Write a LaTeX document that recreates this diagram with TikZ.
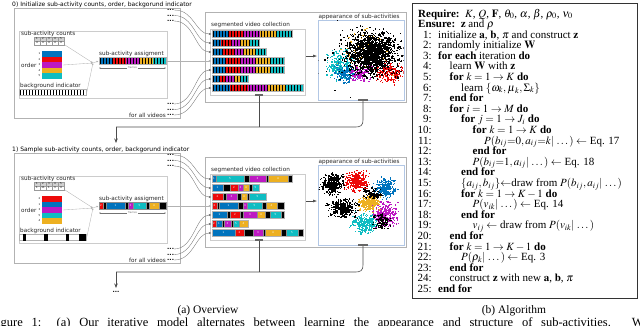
\documentclass[tikz,border=0pt]{standalone}
\usepackage{amsmath}
\usepackage{mathptmx}
\usepackage{fontspec}
\setmainfont{Liberation Serif}
\newfontfamily\lblfont{DejaVu Sans}
\usetikzlibrary{arrows.meta,positioning}

\definecolor{saone}{rgb}{0,0.45,0.74}
\definecolor{satwo}{rgb}{0.93,0.04,0.04}
\definecolor{sathree}{rgb}{0.74,0.1,0.76}
\definecolor{safour}{rgb}{0.93,0.69,0.13}
\definecolor{safive}{rgb}{0.06,0.74,0.76}
\definecolor{plotframe}{rgb}{0.7,0.78,0.9}

\tikzset{
  panel/.style={draw=black!30, line width=.6pt},
  subpanel/.style={draw=black!20, line width=.4pt},
  lbl/.style={font={\lblfont\fontsize{5.7}{6}\selectfont}, inner sep=0pt, text=black!85},
  ttl/.style={font={\lblfont\fontsize{6}{6}\selectfont}, inner sep=0pt, anchor=west},
  dig/.style={font={\lblfont\fontsize{2.6}{3}\selectfont}, inner sep=0pt},
  ellip/.style={font={\lblfont\bfseries\fontsize{6}{6}\selectfont}, inner sep=0pt, anchor=west},
  feed/.style={draw=black!55, line width=.35pt, -{Latex[length=2.6pt,width=2.2pt]}},
  merge/.style={draw=black!30, line width=.35pt, -{Latex[length=2pt,width=1.8pt]}},
  back/.style={draw=black!70, line width=.6pt},
  frm/.style={draw=black!30, line width=.3pt},
  segm/.style={draw=white!55!black, line width=.2pt},
  algtxt/.style={font={\fontsize{11}{12}\selectfont}, inner sep=0pt, anchor=base west},
  algno/.style={font={\fontsize{11}{12}\selectfont}, inner sep=0pt, anchor=base east},
}
\newcommand\pointcloud[6]{%
  \foreach \n in {1,...,#6}{%
    \pgfmathsetmacro\px{#2+#4*(rand+rand+rand)}%
    \pgfmathsetmacro\py{#3+#5*(rand+rand+rand)}%
    \fill[#1] (\px,\py) rectangle +(1.3,1.3);
  }}

\begin{document}
\begin{tikzpicture}[x=1pt, y=-1pt]
\useasboundingbox (0,0) rectangle (640,325);

% frames shared by step 0 and step 1
\foreach \p/\s in {0/0,1/145}{
\begin{scope}[yshift=-\s pt]
  \draw[panel] (14,8) rectangle (180,118);
  \draw[subpanel] (19,31) rectangle (167,98);
  \draw[panel] (205,12) rectangle (406,102);
  \draw[subpanel] (210,29) rectangle (305,95);
  \draw[plotframe, line width=.6pt] (318,20) rectangle (404,100);
  \node[lbl, anchor=west] (cnt\p) at (21,34) {sub-activity counts};
  \node[lbl, anchor=west] (ord\p) at (21,65) {order};
  \node[lbl, anchor=west] (bgl\p) at (20,86) {background indicator};
  \node[lbl, anchor=west] (asg\p) at (99,54) {sub-activity assigment};
  \node[lbl, anchor=west] (seg\p) at (211,25) {segmented video collection};
  \node[lbl, anchor=west] (app\p) at (318.5,16.5) {appearance of sub-activities};
  \foreach \k in {1,...,5}
    \node[dig, draw=black!40, fill=black!18, minimum width=6pt, minimum height=4pt] (hd\p\k) at (31+6*\k,39) {\k};
  \draw[{Latex[length=1.4pt,width=1.4pt]}-{Latex[length=1.4pt,width=1.4pt]}, black!55, line width=.25pt]
    (99,68) -- (166,68) node[dig, midway, fill=white, inner sep=.6pt] (frames\p) {frames};
  % inputs merge into the assignment
  \coordinate (tab\p) at (65,45);
  \coordinate (blk\p) at (63,65);
  \coordinate (bgi\p) at (86,96);
  \coordinate (mrg\p) at (93,63);
  \coordinate (asgin\p) at (98.5,61);
  \coordinate (asgout\p) at (166,61);
  \draw[merge] (tab\p) -- (mrg\p);
  \draw[merge] (blk\p) -- (mrg\p);
  \draw[merge] (bgi\p) -- (mrg\p);
  \draw[merge] (mrg\p) -- (asgin\p);
  % every video goes to the collection
  \foreach \d/\y in {a/10,b/15.5,c/21,d/104,e/109.5,f/115}
    \node[ellip] (dt\p\d) at (167,\y) {...};
  \node[lbl, left=1pt of dt\p f] (all\p) {for all videos};
  \foreach \i in {1,...,7}
    \coordinate (row\p\i) at (211.5,25+9*\i);
  \draw[feed] (dt\p a.east) .. controls +(20,0) and +(-16,0) .. (row\p1);
  \draw[feed] (dt\p b.east) .. controls +(20,0) and +(-16,0) .. (row\p2);
  \draw[feed] (dt\p c.east) .. controls +(20,0) and +(-16,0) .. (row\p3);
  \draw[feed, draw=black!30] (asgout\p) -- (row\p4);
  \draw[feed] (dt\p d.east) .. controls +(20,0) and +(-16,0) .. (row\p5);
  \draw[feed] (dt\p e.east) .. controls +(20,0) and +(-16,0) .. (row\p6);
  \draw[feed] (dt\p f.east) .. controls +(20,0) and +(-16,0) .. (row\p7);
  % appearance and structure feed the next step
  \coordinate (segr\p) at (306,56);
  \coordinate (appl\p) at (317,56);
  \draw[-{Latex[length=4pt,width=3pt]}, black!70, line width=.5pt] (segr\p) -- (appl\p);
  \fill[black!60] (255,94.2) rectangle (263,95.8);
  \fill[black!60] (358,99.2) rectangle (368,100.8);
  \coordinate (segb\p) at (259,96);
  \coordinate (appb\p) at (363,101);
  \coordinate (turn\p) at (116,127);
  \coordinate (next\p) at (116,143);
  \draw[back] (segb\p) -- (259,127);
  \draw[back] (appb\p) -- (363,119) .. controls (363,126) and (361,127) .. (354,127) -- (turn\p);
  \draw[back, -{Stealth[length=4.5pt,width=3.5pt]}] (turn\p) -- (next\p);
\end{scope}
}

% step 0: initial counts, order and background
\node[ttl] (ttl0) at (12,4.5) {0) Initialize sub-activity counts, order, backgorund indicator};
\foreach \k in {1,...,5}
  \node[dig, draw=black!40, minimum width=6pt, minimum height=4pt] (ct0\k) at (31+6*\k,43) {4};
\foreach \k/\c in {1/saone,2/satwo,3/sathree,4/safour,5/safive}{
  \fill[\c] (42,45.5+5.5*\k) rectangle +(20,5.5);
  \node[dig] (or0\k) at (39.5,48.25+5.5*\k) {\k};
}
\foreach \k/\c in {0/saone,1/satwo,2/sathree,3/safour,4/safive}
  \fill[\c] (99+13.4*\k,57.5) rectangle +(13.4,7);
\foreach \x in {100.5,103.5,...,165}
  \draw[line width=1pt] (\x,57.5) -- +(0,7);
\draw[frm] (99,57.5) rectangle (166,64.5);
\foreach \x in {20.5,23.5,...,85}
  \draw[line width=1.4pt] (\x,89) -- +(0,6.5);
\draw[frm] (19,89) rectangle (86,95.5);
\foreach \i/\e in {1/292,2/259,3/266,4/284,5/284,6/248,7/303}{
  \pgfmathsetmacro\sw{(\e-212)/5}
  \pgfmathsetmacro\rt{21.5+9*\i}
  \foreach \k/\c in {0/saone,1/satwo,2/sathree,3/safour,4/safive}
    \fill[\c] ({212+\sw*\k},\rt) rectangle +(\sw,7);
  \foreach \x in {213.5,216.5,...,\e}
    \draw[line width=1pt] (\x,\rt) -- +(0,7);
  \draw[frm] (212,\rt) rectangle ({\e},{\rt+7});
}
\begin{scope}
  \clip (318.5,20.5) rectangle (403.5,99.5);
  \pgfmathsetseed{7}
  \pointcloud{safive}{339}{63}{6}{7}{220}
  \pointcloud{saone}{346}{73}{6}{4}{180}
  \pointcloud{sathree}{360}{73}{5}{4}{150}
  \pointcloud{satwo}{389}{72}{7}{5}{220}
  \pointcloud{safour}{366}{50}{12}{9}{100}
  \pointcloud{black}{371}{52}{12}{10}{1500}
  \pointcloud{black}{368}{56}{20}{16}{80}
\end{scope}

% step 1: sampled counts, order and background
\node[ttl] (ttl1) at (12,149.5) {1) Sample sub-activity counts, order, backgorund indicator};
\foreach \k/\v in {1/1,2/11,3/1,4/3,5/4}
  \node[dig, draw=black!40, minimum width=6pt, minimum height=4pt] (ct1\k) at (31+6*\k,188) {\v};
\foreach \k/\c/\v in {1/satwo/2,2/saone/1,3/sathree/3,4/safive/5,5/safour/4}{
  \fill[\c] (42,190.5+5.5*\k) rectangle +(20,5.5);
  \node[dig] (or1\k) at (39.5,193.25+5.5*\k) {\v};
}
\foreach \c/\a/\b/\v in {satwo/99/103/2, black/103/106/{}, saone/106/125/1, black/125/128/{},
    sathree/128/133/3, safive/133/146/5, black/146/149/{}, safour/149/159/4, black/159/166/{}}{
  \fill[\c, segm] (\a,202.5) rectangle (\b,209.5);
  \node[dig, text=white] (as\a) at ({(\a+\b)/2},206) {\v};
}
\draw[frm] (19,234) rectangle (86,240.5);
\foreach \a/\b in {23/26,44/48,66/69,79/86}
  \fill (\a,234) rectangle (\b,240.5);
\foreach \i/\e/\segs in {
  1/292/{saone/212/216/1, safive/216/244/5, black/244/249/{}, sathree/249/266/3, black/266/268/{}, safour/268/288/4, black/288/292/{}},
  2/259/{saone/212/223/1, black/223/230/{}, satwo/230/238/2, sathree/238/243/3, safour/243/249/4, black/249/252/{}, safive/252/259/5},
  3/266/{satwo/212/223/2, black/223/226/{}, sathree/226/237/3, black/237/241/{}, safour/241/247/4, black/247/249/{}, safive/249/266/5},
  4/284/{satwo/212/217/2, black/217/219/{}, saone/219/238/1, black/238/243/{}, sathree/243/247/3, safive/247/262/5, black/262/266/{}, safour/266/277/4, black/277/284/{}},
  5/284/{saone/212/227/1, black/227/230/{}, satwo/230/240/2, black/240/243/{}, sathree/243/257/3, safour/257/265/4, black/265/270/{}, safive/270/281/5, black/281/284/{}},
  6/248/{satwo/212/216/2, saone/216/222/1, black/222/224/{}, sathree/224/231/3, black/231/233/{}, safive/233/239/5, safour/239/248/4},
  7/303/{saone/212/235/1, satwo/235/244/2, black/244/253/{}, sathree/253/263/3, black/263/265/{}, safour/265/281/4, black/281/286/{}, safive/286/298/5, black/298/303/{}}}{
  \pgfmathsetmacro\rt{166.5+9*\i}
  \foreach \c/\a/\b/\v in \segs{
    \fill[\c, segm] (\a,\rt) rectangle ({\b},{\rt+7});
    \node[dig, text=white] (sg\i-\a) at ({(\a+\b)/2},{\rt+3.5}) {\v};
  }
  \draw[frm] (212,\rt) rectangle ({\e},{\rt+7});
}
\begin{scope}
  \clip (318.5,165.5) rectangle (403.5,244.5);
  \pgfmathsetseed{11}
  \pointcloud{satwo}{356}{181}{5.5}{4.5}{300}
  \pointcloud{saone}{384}{188}{5}{4.5}{260}
  \pointcloud{black}{332}{183}{5.5}{4.5}{300}
  \pointcloud{black}{372}{193}{4}{3}{110}
  \pointcloud{safour}{368}{203}{5}{3.5}{240}
  \pointcloud{black}{342}{207}{6.5}{4.5}{320}
  \pointcloud{safive}{365}{222}{6.5}{4.5}{280}
  \pointcloud{sathree}{385}{214}{5.5}{5.5}{280}
  \pointcloud{black}{381}{221}{4}{3.5}{110}
\end{scope}
\node[ellip, anchor=center] (more) at (116,292) {...};

% algorithm
\draw[line width=.7pt, black!80] (412,3) rectangle (637,298);
\node[algtxt] (req) at (418,17) {\textbf{Require:}\ \ $K$, $Q$, $\mathbf{F}$, $\theta_0$, $\alpha$, $\beta$, $\rho_0$, $\nu_0$};
\node[algtxt] (ens) at (418,27.5) {\textbf{Ensure:}\ \ $\mathbf{z}$ and $\boldsymbol{\rho}$};
\foreach \n/\l/\t in {
  1/0/{initialize $\mathbf{a}$, $\mathbf{b}$, $\boldsymbol{\pi}$ and construct $\mathbf{z}$},
  2/0/{randomly initialize $\mathbf{W}$},
  3/0/{\textbf{for each} iteration \textbf{do}},
  4/1/{learn $\mathbf{W}$ with $\mathbf{z}$},
  5/1/{\textbf{for} $k=1\rightarrow K$ \textbf{do}},
  6/2/{learn $\{\omega_k, \boldsymbol{\mu}_k, \boldsymbol{\Sigma}_k\}$},
  7/1/{\textbf{end for}},
  8/1/{\textbf{for} $i=1\rightarrow M$ \textbf{do}},
  9/2/{\textbf{for} $j=1\rightarrow J_i$ \textbf{do}},
  10/3/{\textbf{for} $k=1\rightarrow K$ \textbf{do}},
  11/4/{$P(b_{ij}{=}0, a_{ij}{=}k|\,\dots)\leftarrow$ Eq. 17},
  12/3/{\textbf{end for}},
  13/3/{$P(b_{ij}{=}1, a_{ij}|\,\dots)\leftarrow$ Eq. 18},
  14/2/{\textbf{end for}},
  15/2/{$\{a_{ij}, b_{ij}\}{\leftarrow}$draw from $P(b_{ij}, a_{ij}|\,\dots)$},
  16/2/{\textbf{for} $k=1\rightarrow K-1$ \textbf{do}},
  17/3/{$P(v_{ik}|\,\dots)\leftarrow$ Eq. 14},
  18/2/{\textbf{end for}},
  19/3/{$v_{ij}\leftarrow$ draw from $P(v_{ik}|\,\dots)$},
  20/1/{\textbf{end for}},
  21/1/{\textbf{for} $k=1\rightarrow K-1$ \textbf{do}},
  22/2/{$P(\rho_k|\,\dots)\leftarrow$ Eq. 3},
  23/1/{\textbf{end for}},
  24/1/{construct $\mathbf{z}$ with new $\mathbf{a}$, $\mathbf{b}$, $\boldsymbol{\pi}$},
  25/0/{\textbf{end for}}}{
  \pgfmathsetmacro\ly{27.5+10.6*\n}
  \node[algno] (no\n) at (432,\ly) {\n:};
  \node[algtxt] (ln\n) at ({438+11.5*\l},\ly) {\t};
}

% captions
\node[font={\fontsize{11.5}{13}\selectfont}] (capa) at (208,311) {(a) Overview};
\node[font={\fontsize{11.5}{13}\selectfont}] (capb) at (514,311) {(b) Algorithm};
\node[anchor=base west, inner sep=0pt, font={\fontsize{12.5}{14}\selectfont}] (capline) at (-10,326)
  {\makebox[658pt][s]{Figure 1: (a) Our iterative model alternates between learning the appearance and structure of sub-activities. We}};
\end{tikzpicture}
\end{document}
